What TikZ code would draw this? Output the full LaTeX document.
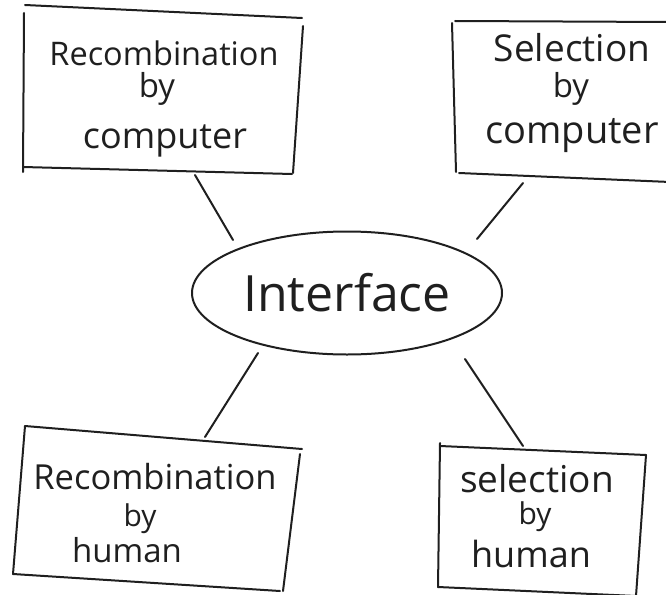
\documentclass[tikz,border=0pt]{standalone}
\usepackage{fontspec}
\setmainfont{Open Sans}
\usetikzlibrary{shapes.geometric}
\tikzset{
  ink/.style={draw=black!88, line width=2pt, line cap=round, line join=round},
  word/.style={anchor=base, inner sep=0pt, text=black!88},
}
\newcommand{\fs}[1]{\fontsize{#1}{#1}\selectfont}
\begin{document}
\begin{tikzpicture}[x=1pt, y=-1pt]
\useasboundingbox (0,0) rectangle (666,594);

% hand-drawn box outlines (four strokes each)
\draw[ink] (25,5) -- (302,18);
\draw[ink] (24,13) -- (23,172);
\draw[ink] (23,167) -- (292,174);
\draw[ink] (303,26) -- (293,173);

\draw[ink] (455,21) -- (670,22);
\draw[ink] (452,23) -- (456,172);
\draw[ink] (459,173) -- (670,182);

\draw[ink] (25,426) -- (302,449);
\draw[ink] (25,426) -- (13,574);
\draw[ink] (13,574) -- (280,591);
\draw[ink] (300,454) -- (283,591);

\draw[ink] (440,446) -- (646,455);
\draw[ink] (440,443) -- (438,587);
\draw[ink] (438,587) -- (636,596);
\draw[ink] (646,455) -- (636,596);

% box texts
\node[word, font=\fs{32.5}] (rc1) at (164,65) {Recombination};
\node[word, font=\fs{33}]   (rc2) at (157,97) {by};
\node[word, font=\fs{36}]   (rc3) at (165,148) {computer};

\node[word, font=\fs{37}]   (sc1) at (572,62) {Selection};
\node[word, font=\fs{33}]   (sc2) at (571,97) {by};
\node[word, font=\fs{38}]   (sc3) at (572,143) {computer};

\node[word, font=\fs{34.5}] (rh1) at (155,489) {Recombination};
\node[word, font=\fs{30}]   (rh2) at (140,526) {by};
\node[word, font=\fs{33}]   (rh3) at (127,562) {human};

\node[word, font=\fs{37}]   (sh1) at (537,492) {selection};
\node[word, font=\fs{30}]   (sh2) at (535,524) {by};
\node[word, font=\fs{36}]   (sh3) at (531,567) {human};

% central interface
\node[ink, ellipse, minimum width=310pt, minimum height=123pt, inner sep=0pt,
      font=\fs{50}, text=black!88] (iface) at (347,293) {Interface};

% connector ends
\coordinate (tlA) at (195,175); \coordinate (tlB) at (233,240);
\coordinate (trA) at (523,183); \coordinate (trB) at (477,239);
\coordinate (blA) at (258,353); \coordinate (blB) at (205,437);
\coordinate (brA) at (465,359); \coordinate (brB) at (523,446);
\draw[ink] (tlA) -- (tlB);
\draw[ink] (trA) -- (trB);
\draw[ink] (blA) -- (blB);
\draw[ink] (brA) -- (brB);
\end{tikzpicture}
\end{document}
